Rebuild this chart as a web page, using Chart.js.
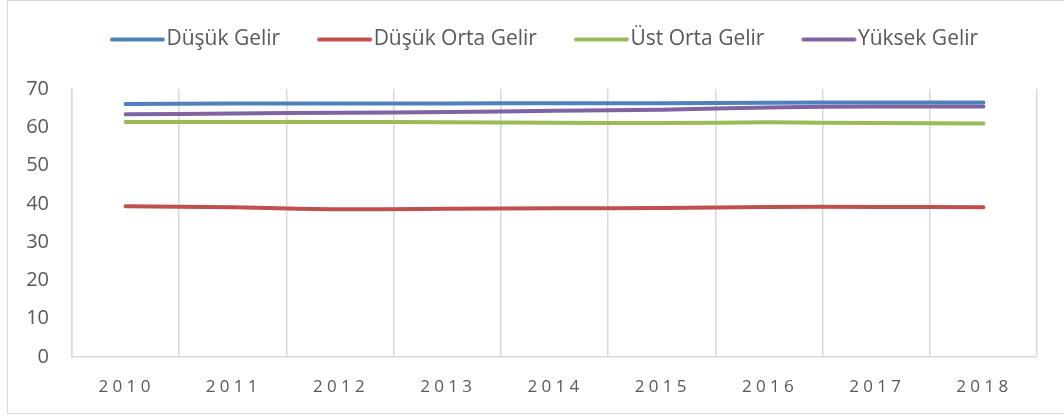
<!DOCTYPE html>
<html>
<head>
<meta charset="utf-8">
<script src="https://cdn.jsdelivr.net/npm/chart.js@4.4.1/dist/chart.umd.min.js"></script>
<style>
  html, body { margin: 0; padding: 0; background: #fff; overflow: hidden; }
  body { width: 1064px; height: 418px; position: relative; }
  .frame { position: absolute; left: 7px; top: 0; width: 1100px; height: 414px; border: 1px solid #d9d9d9; box-sizing: border-box; }
  #chart { position: absolute; left: 7px; top: 0; }
</style>
</head>
<body>
<div class="frame"></div>
<canvas id="chart" width="1064" height="418"></canvas>
<script>
// yillar ve gelir gruplari
const years = ['2010', '2011', '2012', '2013', '2014', '2015', '2016', '2017', '2018'];
const dusukGelir = [66.1, 66.2, 66.2, 66.2, 66.3, 66.3, 66.4, 66.5, 66.5];
const dusukOrtaGelir = [39.4, 39.1, 38.6, 38.7, 38.85, 38.9, 39.2, 39.2, 39.1];
const ustOrtaGelir = [61.4, 61.4, 61.4, 61.3, 61.2, 61.1, 61.3, 61.1, 61.0];
const yuksekGelir = [63.4, 63.6, 63.8, 64.0, 64.3, 64.6, 65.2, 65.4, 65.4];
const yTicks = [0, 10, 20, 30, 40, 50, 60, 70];

const textColor = '#595959';
const gridColor = '#d9d9d9';

// legend sample: a short thick line that runs right up to the label text
const swatch = (color) => {
  const c = document.createElement('canvas');
  c.width = 74;
  c.height = 8;
  const g = c.getContext('2d');
  g.strokeStyle = color;
  g.lineWidth = 4;
  g.lineCap = 'round';
  g.beginPath();
  g.moveTo(20, 4);
  g.lineTo(71, 4);
  g.stroke();
  return c;
};

const makeLine = (label, data, color) => ({
  label: label,
  data: data,
  borderColor: color,
  backgroundColor: color,
  borderWidth: 4,
  borderCapStyle: 'round',
  borderJoinStyle: 'round',
  pointRadius: 0,
  pointStyle: swatch(color),
  tension: 0.3
});

// legend: fixed height, and centred on the whole frame rather than the plot
const legendBox = {
  id: 'legendBox',
  afterInit(chart) {
    const lg = chart.legend;
    const fit = lg.fit.bind(lg);
    lg.fit = function () { fit(); this.height = 89; };
  },
  afterLayout(chart) {
    const lg = chart.legend;
    lg.left = 2;
    lg.right = chart.width;
    lg.width = lg.right - lg.left;
  }
};

// spaced out year labels on the x axis
const spacedLabels = {
  id: 'spacedLabels',
  beforeDraw(chart) {
    const sc = chart.scales.x;
    if (sc._spaced) return;
    const orig = sc.drawLabels.bind(sc);
    sc.drawLabels = function (area) {
      const ctx = chart.ctx;
      ctx.save();
      ctx.letterSpacing = '4.3px';
      ctx.translate(1, 1);
      orig(area);
      ctx.restore();
    };
    sc._spaced = true;
  }
};

new Chart(document.getElementById('chart'), {
  type: 'line',
  data: {
    labels: years,
    datasets: [
      makeLine('Düşük Gelir', dusukGelir, '#4F81BD'),
      makeLine('Düşük Orta Gelir', dusukOrtaGelir, '#C0504D'),
      makeLine('Üst Orta Gelir', ustOrtaGelir, '#9BBB59'),
      makeLine('Yüksek Gelir', yuksekGelir, '#8064A2')
    ]
  },
  options: {
    responsive: false,
    animation: false,
    devicePixelRatio: 1,
    layout: { padding: { left: 0, right: 34, top: 0, bottom: 0 } },
    plugins: {
      tooltip: { enabled: false },
      legend: {
        position: 'top',
        labels: {
          usePointStyle: true,
          pointStyleWidth: 54,
          padding: 29,
          color: textColor,
          font: { family: 'Open Sans', size: 21 }
        }
      }
    },
    scales: {
      x: {
        offset: true,
        grid: { display: true, offset: true, color: gridColor, lineWidth: 1.5, drawTicks: false },
        border: { display: true, color: gridColor, width: 1.5 },
        ticks: {
          color: textColor,
          font: { family: 'Open Sans', size: 17 },
          padding: 19,
          maxRotation: 0
        },
        afterFit(scale) { scale.height = 61; }
      },
      y: {
        min: 0,
        max: 70,
        grid: { display: false, drawTicks: false },
        border: { display: true, color: gridColor, width: 1.5 },
        afterBuildTicks(scale) { scale.ticks = yTicks.map(v => ({ value: v })); },
        ticks: {
          color: textColor,
          font: { family: 'Open Sans', size: 20 },
          padding: 23
        },
        afterFit(scale) { scale.width = 65; }
      }
    }
  },
  plugins: [legendBox, spacedLabels]
});
</script>
</body>
</html>
